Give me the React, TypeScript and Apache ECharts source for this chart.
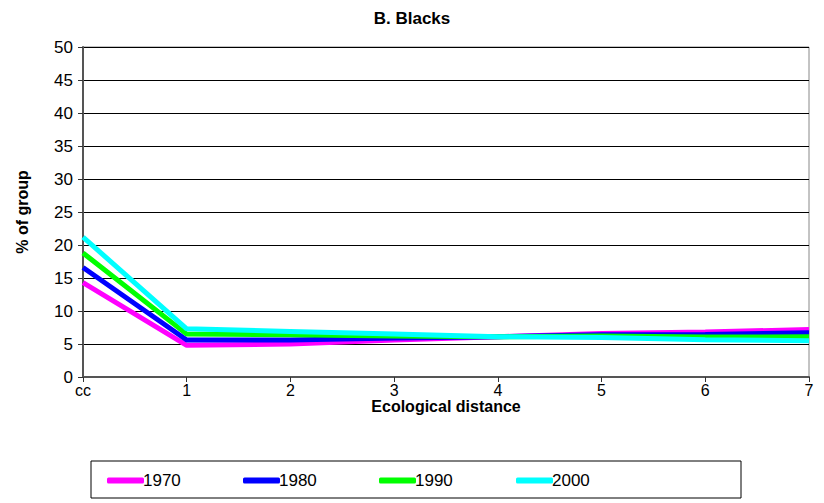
import React, { useEffect, useRef } from "react";
import * as echarts from "echarts";

const categories = ["cc", "1", "2", "3", "4", "5", "6", "7"];
const s1970 = [14.3, 4.8, 5.0, 5.6, 6.1, 6.6, 6.8, 7.2];
const s1980 = [16.6, 5.6, 5.6, 5.9, 6.1, 6.4, 6.45, 6.7];
const s1990 = [18.8, 6.5, 6.4, 6.2, 6.1, 6.2, 6.05, 6.1];
const s2000 = [21.2, 7.3, 6.9, 6.5, 6.1, 6.0, 5.65, 5.5];
const seriesNames = ["1970", "1980", "1990", "2000"];
const colors = ["#FF00FF", "#0000FF", "#00FF00", "#00FFFF"];

export default function App() {
  const ref = useRef<HTMLDivElement>(null);
  useEffect(() => {
    if (!ref.current) return;
    const chart = echarts.init(ref.current, undefined, { renderer: "svg" });
    const font = "Liberation Sans, Arial, sans-serif";
    const data = [s1970, s1980, s1990, s2000];
    const legendLefts = [102, 238, 374, 511];
    chart.setOption({
      animation: false,
      backgroundColor: "#fff",
      title: {
        text: "B. Blacks",
        left: "center",
        top: 5,
        textStyle: { fontFamily: font, fontSize: 17, fontWeight: "bold", color: "#000" },
      },
      grid: {
        left: 83,
        right: 15,
        top: 47,
        bottom: 126,
        show: true,
        borderColor: "#888",
        borderWidth: 1,
        backgroundColor: "transparent",
      },
      legend: seriesNames.map((n, i) => ({
        data: [n],
        left: legendLefts[i],
        top: 467,
        icon: "roundRect",
        itemWidth: 37,
        itemHeight: 6,
        itemGap: 0,
        textStyle: { fontFamily: font, fontSize: 17, color: "#000", padding: [0, 0, 0, -6] },
        selectedMode: false,
      })),
      graphic: [
        {
          type: "rect",
          shape: { x: 91, y: 461, width: 650, height: 37 },
          style: { fill: "none", stroke: "#000", lineWidth: 1 },
          silent: true,
        },
      ],
      xAxis: {
        type: "category",
        data: categories,
        boundaryGap: false,
        name: "Ecological distance",
        nameLocation: "middle",
        nameGap: 21,
        nameMoveOverlap: false,
        nameTextStyle: { fontFamily: font, fontSize: 16, fontWeight: "bold", color: "#000", lineHeight: 16 },
        axisLine: { lineStyle: { color: "#555", width: 2 } },
        axisTick: { show: true, length: 5, lineStyle: { color: "#333" } },
        axisLabel: { fontFamily: font, fontSize: 16, lineHeight: 16, color: "#000", margin: 5 },
        splitLine: { show: false },
      },
      yAxis: {
        type: "value",
        min: 0,
        max: 50,
        interval: 5,
        name: "% of group",
        nameLocation: "middle",
        nameGap: 53,
        nameMoveOverlap: false,
        nameTextStyle: { fontFamily: font, fontSize: 16, fontWeight: "bold", color: "#000" },
        axisLine: { show: true, lineStyle: { color: "#555", width: 2 } },
        axisTick: { show: true, length: 5, lineStyle: { color: "#333" } },
        axisLabel: { fontFamily: font, fontSize: 17, color: "#000", margin: 10 },
        splitLine: { show: true, lineStyle: { color: "#000", width: 1 } },
      },
      series: seriesNames.map((n, i) => ({
        name: n,
        type: "line",
        data: data[i],
        symbol: "none",
        showSymbol: false,
        color: colors[i],
        lineStyle: { color: colors[i], width: 5 },
        itemStyle: { color: colors[i] },
      })),
    });
    return () => chart.dispose();
  }, []);
  return (
    <div
      ref={ref}
      style={{ position: "fixed", left: 0, top: 0, width: 824, height: 503 }}
    />
  );
}
